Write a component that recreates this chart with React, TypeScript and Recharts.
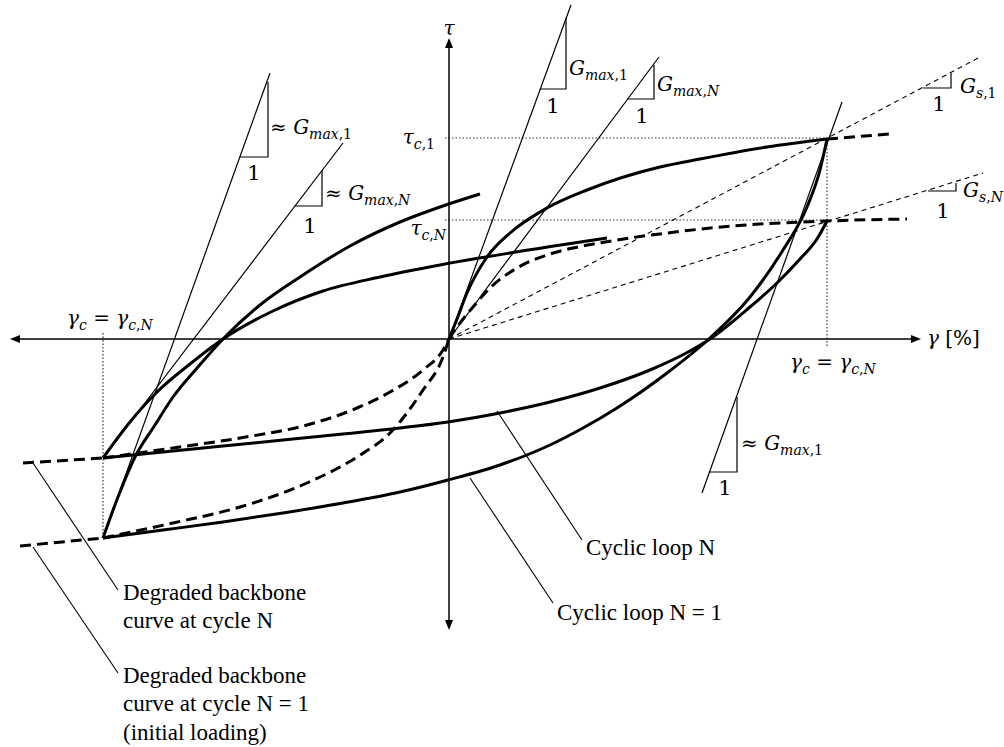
import React from "react";
import { ComposedChart, Line, Scatter, XAxis, YAxis } from "recharts";

type Pt = { x: number; y: number };
type Part = [string, "i" | "r" | "s" | "sr"];

// shear strain γ on x, shear stress τ on y, origin where the axes cross
const backbone1: Pt[] = [
  { x: 0, y: 0 }, { x: 0.08, y: 0.2 }, { x: 0.18, y: 0.46 }, { x: 0.38, y: 0.82 },
  { x: 0.61, y: 1.06 }, { x: 0.98, y: 1.31 }, { x: 1.38, y: 1.49 }, { x: 2.11, y: 1.72 },
  { x: 2.51, y: 1.8 }, { x: 3.18, y: 1.92 }, { x: 3.78, y: 2.0 },
];
const backbone1Ext: Pt[] = [{ x: 3.78, y: 2.0 }, { x: 4.41, y: 2.05 }];
const backbone1Neg: Pt[] = [
  { x: -3.46, y: -1.99 }, { x: -2.76, y: -1.84 }, { x: -2.09, y: -1.68 }, { x: -1.42, y: -1.44 },
  { x: -0.92, y: -1.18 }, { x: -0.59, y: -0.94 }, { x: -0.26, y: -0.51 }, { x: -0.06, y: -0.18 },
  { x: 0, y: 0 },
];
const backbone1NegExt: Pt[] = [{ x: -4.29, y: -2.07 }, { x: -3.46, y: -1.99 }];

const backboneN: Pt[] = [
  { x: 0, y: 0 }, { x: 0.08, y: 0.12 }, { x: 0.24, y: 0.32 }, { x: 0.41, y: 0.51 },
  { x: 0.68, y: 0.71 }, { x: 1.01, y: 0.85 }, { x: 1.34, y: 0.93 }, { x: 1.68, y: 0.99 },
  { x: 2.18, y: 1.06 }, { x: 2.84, y: 1.13 }, { x: 3.78, y: 1.18 }, { x: 4.58, y: 1.2 },
];
const backboneNNeg: Pt[] = [
  { x: -3.46, y: -1.19 }, { x: -2.76, y: -1.09 }, { x: -2.09, y: -0.99 }, { x: -1.42, y: -0.86 },
  { x: -0.92, y: -0.69 }, { x: -0.59, y: -0.53 }, { x: -0.26, y: -0.31 }, { x: -0.06, y: -0.11 },
  { x: 0, y: 0 },
];
const backboneNNegExt: Pt[] = [{ x: -4.26, y: -1.24 }, { x: -3.46, y: -1.19 }];

const loop1Upper: Pt[] = [
  { x: -3.46, y: -1.99 }, { x: -3.31, y: -1.58 }, { x: -3.14, y: -1.18 }, { x: -2.94, y: -0.86 },
  { x: -2.76, y: -0.58 }, { x: -2.51, y: -0.28 }, { x: -2.26, y: 0.0 }, { x: -1.89, y: 0.34 },
  { x: -1.49, y: 0.62 }, { x: -0.99, y: 0.93 }, { x: -0.49, y: 1.17 }, { x: -0.09, y: 1.32 },
  { x: 0.31, y: 1.45 },
];
const loop1Lower: Pt[] = [
  { x: -3.46, y: -1.99 }, { x: -2.86, y: -1.91 }, { x: -2.26, y: -1.83 }, { x: -1.66, y: -1.74 },
  { x: -1.06, y: -1.64 }, { x: -0.49, y: -1.53 }, { x: -0.01, y: -1.41 }, { x: 0.51, y: -1.26 },
  { x: 1.01, y: -1.06 }, { x: 1.34, y: -0.89 }, { x: 1.68, y: -0.69 }, { x: 2.18, y: -0.34 },
  { x: 2.61, y: 0.01 }, { x: 3.01, y: 0.42 }, { x: 3.34, y: 0.89 }, { x: 3.58, y: 1.32 },
  { x: 3.71, y: 1.69 }, { x: 3.78, y: 2.0 },
];
const loopNUpper: Pt[] = [
  { x: -3.46, y: -1.19 }, { x: -3.19, y: -0.83 }, { x: -2.92, y: -0.53 }, { x: -2.59, y: -0.25 },
  { x: -2.26, y: 0.0 }, { x: -1.76, y: 0.28 }, { x: -1.26, y: 0.48 }, { x: -0.69, y: 0.62 },
  { x: -0.09, y: 0.74 }, { x: 0.61, y: 0.86 }, { x: 1.58, y: 1.01 },
];
const loopNLower: Pt[] = [
  { x: -3.46, y: -1.19 }, { x: -2.86, y: -1.13 }, { x: -2.26, y: -1.07 }, { x: -1.66, y: -1.01 },
  { x: -1.06, y: -0.95 }, { x: -0.49, y: -0.89 }, { x: -0.01, y: -0.83 }, { x: 0.51, y: -0.74 },
  { x: 1.01, y: -0.63 }, { x: 1.51, y: -0.49 }, { x: 2.01, y: -0.31 }, { x: 2.41, y: -0.12 },
  { x: 2.61, y: 0.0 }, { x: 3.01, y: 0.32 }, { x: 3.28, y: 0.56 }, { x: 3.51, y: 0.8 },
  { x: 3.68, y: 1.0 }, { x: 3.78, y: 1.18 },
];

// initial-stiffness tangents and their slope triangles
const tangents: Pt[][] = [
  [{ x: 0, y: 0 }, { x: 1.22, y: 3.34 }],
  [{ x: 0, y: 0 }, { x: 2.1, y: 2.82 }],
  [{ x: -3.46, y: -1.99 }, { x: -1.79, y: 2.66 }],
  [{ x: -3.46, y: -1.19 }, { x: -1.06, y: 1.96 }],
  [{ x: 2.53, y: -1.54 }, { x: 3.93, y: 2.37 }],
];
const slopeTriangles: Pt[][] = [
  [{ x: -2.09, y: 1.82 }, { x: -1.81, y: 1.82 }, { x: -1.81, y: 2.57 }],
  [{ x: -1.54, y: 1.33 }, { x: -1.27, y: 1.33 }, { x: -1.27, y: 1.69 }],
  [{ x: 0.91, y: 2.5 }, { x: 1.17, y: 2.5 }, { x: 1.17, y: 3.21 }],
  [{ x: 1.78, y: 2.4 }, { x: 2.05, y: 2.4 }, { x: 2.05, y: 2.74 }],
  [{ x: 2.6, y: -1.33 }, { x: 2.88, y: -1.33 }, { x: 2.88, y: -0.58 }],
  [{ x: 4.74, y: 2.51 }, { x: 5.02, y: 2.51 }, { x: 5.02, y: 2.66 }],
  [{ x: 4.79, y: 1.48 }, { x: 5.07, y: 1.48 }, { x: 5.07, y: 1.56 }],
];
// secant moduli
const secants: Pt[][] = [
  [{ x: 0, y: 0 }, { x: 5.31, y: 2.82 }],
  [{ x: 0, y: 0 }, { x: 5.34, y: 1.66 }],
];
const guides: Pt[][] = [
  [{ x: -0.04, y: 2.01 }, { x: 3.78, y: 2.01 }],
  [{ x: -0.04, y: 1.19 }, { x: 3.78, y: 1.19 }],
  [{ x: 3.78, y: 2.01 }, { x: 3.78, y: -0.09 }],
  [{ x: -3.46, y: 0.06 }, { x: -3.46, y: -1.99 }],
];
const leaders: Pt[][] = [
  [{ x: 0.48, y: -0.72 }, { x: 1.33, y: -2.01 }],
  [{ x: 0.21, y: -1.39 }, { x: 1.04, y: -2.64 }],
  [{ x: -4.16, y: -1.24 }, { x: -3.31, y: -2.51 }],
  [{ x: -4.16, y: -2.08 }, { x: -3.31, y: -3.34 }],
];
const axisLines: Pt[][] = [
  [{ x: -4.36, y: 0 }, { x: 4.7, y: 0 }],
  [{ x: 0, y: -2.89 }, { x: 0, y: 2.99 }],
];
const arrowHeads = [
  { x: 4.72, y: 0, dir: "r" }, { x: -4.39, y: 0, dir: "l" },
  { x: 0, y: 3.01, dir: "u" }, { x: 0, y: -2.91, dir: "d" },
];

const captions = [
  { x: 1.37, y: -2.08, text: "Cyclic loop N" },
  { x: 1.08, y: -2.73, text: "Cyclic loop N = 1" },
  { x: -3.26, y: -2.53, text: "Degraded backbone" },
  { x: -3.26, y: -2.81, text: "curve at cycle N" },
  { x: -3.26, y: -3.36, text: "Degraded backbone" },
  { x: -3.26, y: -3.64, text: "curve at cycle N = 1" },
  { x: -3.26, y: -3.93, text: "(initial loading)" },
];
const unitLabels = [
  { x: -1.95, y: 1.67 }, { x: -1.39, y: 1.14 }, { x: 1.04, y: 2.34 }, { x: 1.93, y: 2.24 },
  { x: 2.76, y: -1.48 }, { x: 4.9, y: 2.36 }, { x: 4.94, y: 1.29 },
];
const gammaC: Part[] = [["γ", "i"], ["c", "s"], [" = ", "r"], ["γ", "i"], ["c", "s"], [",", "sr"], ["N", "s"]];
const mathLabels: { x: number; y: number; anchor?: string; parts: Part[] }[] = [
  { x: 0, y: 3.11, anchor: "middle", parts: [["τ", "i"]] },
  { x: 4.78, y: 0.01, parts: [["γ", "i"], [" [%]", "r"]] },
  { x: -0.14, y: 2.02, anchor: "end", parts: [["τ", "i"], ["c", "s"], [",1", "sr"]] },
  { x: -0.03, y: 1.11, anchor: "end", parts: [["τ", "i"], ["c", "s"], [",", "sr"], ["N", "s"]] },
  { x: -3.82, y: 0.21, parts: gammaC },
  { x: 3.41, y: -0.23, parts: gammaC },
  { x: -1.79, y: 2.12, parts: [["≈ ", "r"], ["G", "i"], ["max", "s"], [",1", "sr"]] },
  { x: -1.24, y: 1.46, parts: [["≈ ", "r"], ["G", "i"], ["max", "s"], [",", "sr"], ["N", "s"]] },
  { x: 1.2, y: 2.71, parts: [["G", "i"], ["max", "s"], [",1", "sr"]] },
  { x: 2.08, y: 2.55, parts: [["G", "i"], ["max", "s"], [",", "sr"], ["N", "s"]] },
  { x: 2.92, y: -1.04, parts: [["≈ ", "r"], ["G", "i"], ["max", "s"], [",1", "sr"]] },
  { x: 5.11, y: 2.53, parts: [["G", "i"], ["s", "s"], [",1", "sr"]] },
  { x: 5.14, y: 1.49, parts: [["G", "i"], ["s", "s"], [",", "sr"], ["N", "s"]] },
];

const SERIF = "'Liberation Serif', 'Times New Roman', serif";
const MATH = "'DejaVu Serif', serif";
const MAIN = 20;
const SUB = 14;
const DROP = 5;

const Arrow = (p: any) => {
  const { cx, cy } = p;
  const L = 10;
  const W = 4;
  const pts: Record<string, string> = {
    r: `${cx},${cy} ${cx - L},${cy - W} ${cx - L},${cy + W}`,
    l: `${cx},${cy} ${cx + L},${cy - W} ${cx + L},${cy + W}`,
    u: `${cx},${cy} ${cx - W},${cy + L} ${cx + W},${cy + L}`,
    d: `${cx},${cy} ${cx - W},${cy - L} ${cx + W},${cy - L}`,
  };
  return <polygon points={pts[p.payload.dir]} fill="#000" />;
};

const Caption = (p: any) => (
  <text x={p.cx} y={p.cy + 8} fill="#000" style={{ fontFamily: SERIF, fontSize: 23 }}>
    {p.payload.text}
  </text>
);

const One = (p: any) => (
  <text x={p.cx} y={p.cy + 8} textAnchor="middle" fill="#000" style={{ fontFamily: MATH, fontSize: 21 }}>
    1
  </text>
);

const MathLabel = (p: any) => {
  const { parts, anchor } = p.payload;
  let level = 0;
  return (
    <text
      x={p.cx}
      y={p.cy + 7}
      textAnchor={anchor ?? "start"}
      fill="#000"
      style={{ fontFamily: MATH, whiteSpace: "pre" }}
    >
      {parts.map(([s, k]: Part, i: number) => {
        const sub = k === "s" || k === "sr";
        const shift = sub ? DROP : 0;
        const dy = shift - level;
        level = shift;
        return (
          <tspan
            key={i}
            dy={dy}
            style={{
              fontSize: sub ? SUB : MAIN,
              fontStyle: k === "i" || k === "s" ? "italic" : "normal",
            }}
          >
            {s}
          </tspan>
        );
      })}
    </text>
  );
};

const curve = (data: Pt[], key: string, width: number, dash?: string, type: any = "monotone", color = "#000") => (
  <Line
    key={key}
    data={data}
    dataKey="y"
    type={type}
    stroke={color}
    strokeWidth={width}
    strokeDasharray={dash}
    dot={false}
    activeDot={false}
    isAnimationActive={false}
  />
);

export default function App() {
  return (
    <div style={{ position: "absolute", left: 0, top: 0, background: "#fff" }}>
      <ComposedChart width={1004} height={747} margin={{ top: 0, right: 0, bottom: 0, left: 0 }}>
        <XAxis type="number" dataKey="x" domain={[-4.49, 5.55]} allowDataOverflow hide />
        <YAxis type="number" dataKey="y" domain={[-4.08, 3.39]} allowDataOverflow hide />

        {guides.map((g, i) => curve(g, `guide${i}`, 1.2, "1.5 2", "linear", "#333"))}
        {axisLines.map((a, i) => curve(a, `axis${i}`, 1.5, undefined, "linear"))}
        {secants.map((s, i) => curve(s, `sec${i}`, 1.1, "5 4", "linear"))}
        {tangents.map((t, i) => curve(t, `tan${i}`, 1.2, undefined, "linear"))}
        {slopeTriangles.map((t, i) => curve(t, `tri${i}`, 1.2, undefined, "linear"))}
        {leaders.map((l, i) => curve(l, `lead${i}`, 1.1, undefined, "linear"))}

        {curve(backbone1Neg, "b1neg", 3, "11 6")}
        {curve(backboneNNeg, "bNneg", 3, "11 6")}
        {curve(backbone1NegExt, "b1negx", 3, "11 6", "linear")}
        {curve(backboneNNegExt, "bNnegx", 3, "11 6", "linear")}
        {curve(backboneN, "bN", 3, "11 6")}
        {curve(backbone1Ext, "b1x", 3, "11 6", "linear")}

        {curve(backbone1, "b1", 3)}
        {curve(loop1Upper, "l1u", 3)}
        {curve(loop1Lower, "l1l", 3)}
        {curve(loopNUpper, "lNu", 3)}
        {curve(loopNLower, "lNl", 3)}

        <Scatter data={arrowHeads} shape={Arrow} isAnimationActive={false} />
        <Scatter data={captions} shape={Caption} isAnimationActive={false} />
        <Scatter data={unitLabels} shape={One} isAnimationActive={false} />
        <Scatter data={mathLabels} shape={MathLabel} isAnimationActive={false} />
      </ComposedChart>
    </div>
  );
}
